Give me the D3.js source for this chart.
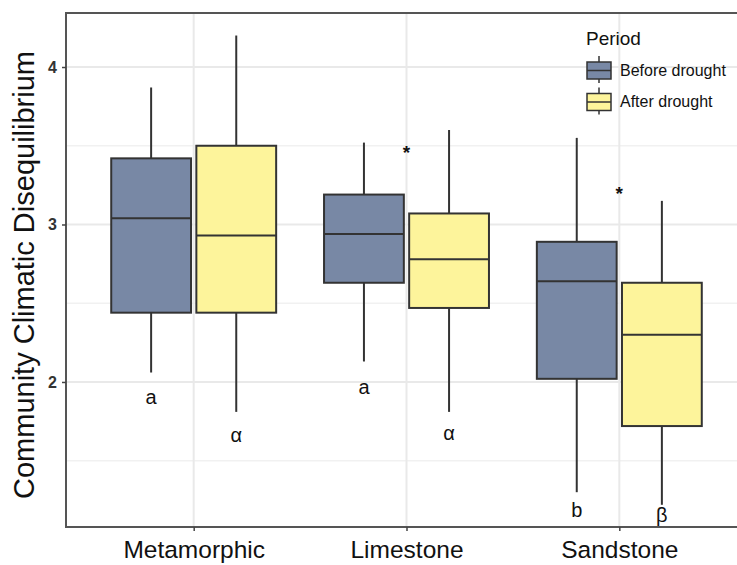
<!DOCTYPE html>
<html>
<head>
<meta charset="utf-8">
<script src="https://cdn.jsdelivr.net/npm/d3@7"></script>
<style>
  html, body { margin: 0; padding: 0; background: #fff; }
  svg { display: block; font-family: "Liberation Sans", Arial, sans-serif; }
</style>
</head>
<body>
<svg id="chart" width="737" height="565"></svg>
<script>
// Lithology groups and drought periods
const categories = ["Metamorphic", "Limestone", "Sandstone"];
const periods = ["Before drought", "After drought"];

// Five-number summaries per group: [lower whisker, Q1, median, Q3, upper whisker]
const beforeStats = [
  [2.06, 2.44, 3.04, 3.42, 3.87],
  [2.13, 2.63, 2.94, 3.19, 3.52],
  [1.30, 2.02, 2.64, 2.89, 3.55]
];
const afterStats = [
  [1.81, 2.44, 2.93, 3.50, 4.20],
  [1.81, 2.47, 2.78, 3.07, 3.60],
  [1.22, 1.72, 2.30, 2.63, 3.15]
];

// Significance letters (compact letter display) and their heights
const beforeLetters = ["a", "a", "b"];
const afterLetters = ["\u03b1", "\u03b1", "\u03b2"];
const beforeLetterY = [1.905, 1.968, 1.187];
const afterLetterY = [1.663, 1.676, 1.156];

// Drought-effect markers between paired boxes
const starGroups = ["Limestone", "Sandstone"];
const starY = [3.486, 3.225];

const yTicks = [2, 3, 4];
const yMinor = [1.5, 2.5, 3.5];

const colors = { "Before drought": "#7888a5", "After drought": "#fdf49b" };

const svg = d3.select("#chart");
const panel = { left: 66, right: 747, top: 13, bottom: 527 };

const x = d3.scalePoint()
  .domain(categories)
  .range([panel.left, panel.right])
  .padding(0.6);
const step = x.step();

const y = d3.scaleLinear()
  .domain([1.079, 4.343])
  .range([panel.bottom, panel.top]);

const dodge = 0.2 * step;
const boxW = 0.375 * step;
const offset = { "Before drought": -dodge, "After drought": dodge };

const clipId = "panel-clip";
svg.append("defs").append("clipPath").attr("id", clipId)
  .append("rect")
  .attr("x", panel.left).attr("y", panel.top)
  .attr("width", panel.right - panel.left).attr("height", panel.bottom - panel.top);

const g = svg.append("g").attr("clip-path", `url(#${clipId})`);

// Grid
g.selectAll("line.minor").data(yMinor).join("line")
  .attr("x1", panel.left).attr("x2", panel.right)
  .attr("y1", d => y(d)).attr("y2", d => y(d))
  .attr("stroke", "#f1f1f1").attr("stroke-width", 1.5);
g.selectAll("line.major").data(yTicks).join("line")
  .attr("x1", panel.left).attr("x2", panel.right)
  .attr("y1", d => y(d)).attr("y2", d => y(d))
  .attr("stroke", "#e9e9e9").attr("stroke-width", 2);
g.selectAll("line.vmajor").data(categories).join("line")
  .attr("x1", d => x(d)).attr("x2", d => x(d))
  .attr("y1", panel.top).attr("y2", panel.bottom)
  .attr("stroke", "#e9e9e9").attr("stroke-width", 2);

// Boxes
const rows = [];
categories.forEach((c, i) => {
  rows.push({ cat: c, period: periods[0], s: beforeStats[i] });
  rows.push({ cat: c, period: periods[1], s: afterStats[i] });
});

const boxes = g.selectAll("g.box").data(rows).join("g")
  .attr("transform", d => `translate(${x(d.cat) + offset[d.period]},0)`);

boxes.append("line")
  .attr("x1", 0).attr("x2", 0)
  .attr("y1", d => y(d.s[4])).attr("y2", d => y(d.s[3]))
  .attr("stroke", "#333").attr("stroke-width", 2);
boxes.append("line")
  .attr("x1", 0).attr("x2", 0)
  .attr("y1", d => y(d.s[1])).attr("y2", d => y(d.s[0]))
  .attr("stroke", "#333").attr("stroke-width", 2);
boxes.append("rect")
  .attr("x", -boxW / 2).attr("width", boxW)
  .attr("y", d => y(d.s[3])).attr("height", d => y(d.s[1]) - y(d.s[3]))
  .attr("fill", d => colors[d.period])
  .attr("stroke", "#333").attr("stroke-width", 2);
boxes.append("line")
  .attr("x1", -boxW / 2).attr("x2", boxW / 2)
  .attr("y1", d => y(d.s[2])).attr("y2", d => y(d.s[2]))
  .attr("stroke", "#333").attr("stroke-width", 2);

// Letters
const letterRows = [];
categories.forEach((c, i) => {
  letterRows.push({ cat: c, period: periods[0], t: beforeLetters[i], v: beforeLetterY[i] });
  letterRows.push({ cat: c, period: periods[1], t: afterLetters[i], v: afterLetterY[i] });
});
g.selectAll("text.letter").data(letterRows).join("text")
  .attr("x", d => x(d.cat) + offset[d.period])
  .attr("y", d => y(d.v))
  .attr("dy", "0.35em")
  .attr("text-anchor", "middle")
  .attr("font-size", 20)
  .attr("fill", "#111")
  .text(d => d.t);

// Significance stars
g.selectAll("text.star").data(starGroups).join("text")
  .attr("x", d => x(d))
  .attr("y", (d, i) => y(starY[i]))
  .attr("dy", "0.575em")
  .attr("text-anchor", "middle")
  .attr("font-size", 19)
  .attr("font-weight", "bold")
  .attr("fill", "#111")
  .text("*");

// Panel border
svg.append("rect")
  .attr("x", panel.left).attr("y", panel.top)
  .attr("width", panel.right - panel.left).attr("height", panel.bottom - panel.top)
  .attr("fill", "none").attr("stroke", "#555").attr("stroke-width", 2);

// Y axis
const yAxis = svg.append("g")
  .attr("transform", `translate(${panel.left},0)`)
  .call(d3.axisLeft(y).tickValues(yTicks).tickSize(4).tickPadding(5).tickFormat(d3.format("d")));
yAxis.select(".domain").remove();
yAxis.selectAll(".tick line").attr("stroke", "#444").attr("stroke-width", 1.5);
yAxis.selectAll(".tick text")
  .attr("font-size", 16).attr("font-weight", "bold").attr("fill", "#333")
  .attr("font-family", "Liberation Sans, Arial, sans-serif");

// X axis
const xAxis = svg.append("g")
  .attr("transform", `translate(0,${panel.bottom})`)
  .call(d3.axisBottom(x).tickSize(4).tickPadding(10));
xAxis.select(".domain").remove();
xAxis.selectAll(".tick line").attr("stroke", "#444").attr("stroke-width", 1.5);
xAxis.selectAll(".tick text")
  .attr("font-size", 24.5).attr("fill", "#111")
  .attr("font-family", "Liberation Sans, Arial, sans-serif");

// Y title
svg.append("text")
  .attr("transform", `translate(34,${(panel.top + panel.bottom) / 2 + 5}) rotate(-90)`)
  .attr("text-anchor", "middle")
  .attr("font-size", 29)
  .attr("fill", "#111")
  .text("Community Climatic Disequilibrium");

// Legend
const legend = svg.append("g").attr("transform", "translate(586,0)");
legend.append("text")
  .attr("x", 0).attr("y", 45)
  .attr("font-size", 19).attr("fill", "#111")
  .text("Period");
const keys = legend.selectAll("g.key").data(periods).join("g")
  .attr("transform", (d, i) => `translate(0,${56 + i * 31.5})`);
keys.append("line")
  .attr("x1", 13).attr("x2", 13).attr("y1", 0).attr("y2", 27)
  .attr("stroke", "#333").attr("stroke-width", 1.5);
keys.append("rect")
  .attr("x", 1).attr("y", 6).attr("width", 24).attr("height", 17)
  .attr("fill", d => colors[d]).attr("stroke", "#333").attr("stroke-width", 1.5);
keys.append("line")
  .attr("x1", 1).attr("x2", 25).attr("y1", 14.5).attr("y2", 14.5)
  .attr("stroke", "#333").attr("stroke-width", 1.5);
keys.append("text")
  .attr("x", 34).attr("y", 19.5)
  .attr("font-size", 16).attr("fill", "#111")
  .text(d => d);
</script>
</body>
</html>
